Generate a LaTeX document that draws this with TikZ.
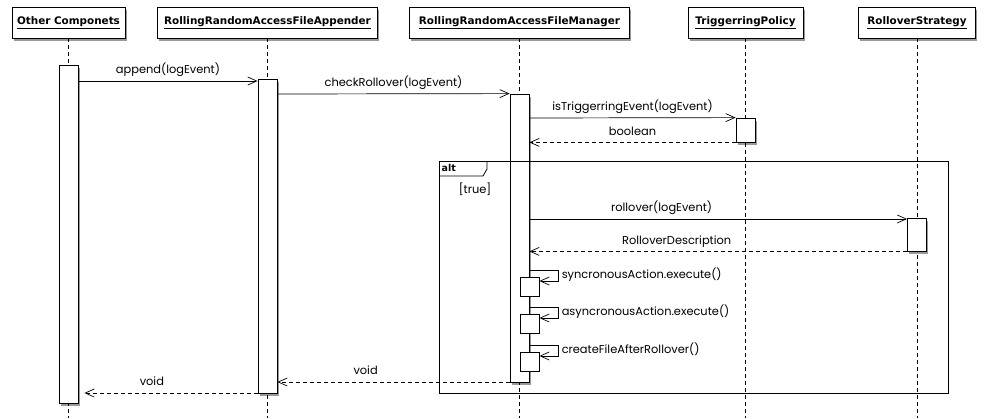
\documentclass[tikz,border=0pt]{standalone}
\usepackage{fontspec}
\setmainfont{Poppins}
\newfontfamily\hdfont{DejaVu Sans}
\usetikzlibrary{arrows.meta,shadows}

\begin{document}
\begin{tikzpicture}[x=1pt,y=-1pt,
    shade/.style={drop shadow={shadow xshift=1.5pt,shadow yshift=-2.5pt,fill=black,opacity=0.4}},
    head/.style={draw, fill=white, line width=0.8pt, minimum height=31pt, inner sep=0pt,
                 font=\hdfont\bfseries\fontsize{10.4}{12}\selectfont, shade},
    act/.style={draw, fill=white, line width=0.8pt, minimum width=19pt, inner sep=0pt, shade},
    selfbox/.style={draw, fill=white, line width=0.8pt, minimum width=19pt, minimum height=19pt, inner sep=0pt},
    life/.style={line width=0.7pt, dash pattern=on 4pt off 3pt},
    msg/.style={-{Straight Barb[length=9pt,width=8pt]}, line width=0.7pt},
    ret/.style={msg, dash pattern=on 4pt off 3pt},
    lbl/.style={font=\fontsize{11.4}{13}\selectfont, inner sep=1pt, text height=8.5pt, text depth=2.5pt}]
    \useasboundingbox (0,0) rectangle (985,418);

    % participants
    \node[head, minimum width=113pt] (hO) at (68.5,22.5) {\underline{Other Componets}};
    \node[head, minimum width=220pt] (hA) at (267.5,22.5) {\underline{RollingRandomAccessFileAppender}};
    \node[head, minimum width=220pt] (hM) at (519.5,22.5) {\underline{RollingRandomAccessFileManager}};
    \node[head, minimum width=115pt] (hT) at (745.5,22.5) {\underline{TriggerringPolicy}};
    \node[head, minimum width=117pt] (hR) at (917,22.5) {\underline{RolloverStrategy}};
    \foreach \n in {hO,hA,hM,hT,hR}
        \draw[life] (\n.south) -- (\n.south |- 0,418);

    % activations
    \node[act, minimum height=338pt] (aO) at (68.5,234) {};
    \node[act, minimum height=314pt] (aA) at (267.5,236) {};
    \node[act, minimum height=288pt] (aM) at (519.5,238) {};
    \node[act, minimum height=24pt] (aT) at (745.5,130) {};
    \node[act, minimum height=33pt] (aR) at (917,234.5) {};
    \node[selfbox] (s1) at (529.5,286.5) {};
    \node[selfbox] (s2) at (529.5,323.5) {};
    \node[selfbox] (s3) at (529.5,361.5) {};

    % alt fragment
    \draw[line width=0.8pt] (439,161) rectangle (948,393);
    \draw[line width=0.8pt] (439,176) -- (483,176) -- (487,169) -- (487,161);
    \node[anchor=west, inner sep=0pt, font=\hdfont\bfseries\fontsize{9.5}{10}\selectfont] (alt) at (441.5,168) {alt};
    \node[lbl] (cond) at (475,190) {[true]};

    % messages
    \draw[msg] (aO.east |- 0,81) -- node[lbl, above=3.5pt] {append(logEvent)} (aA.west |- 0,81);
    \draw[msg] (aA.east |- 0,94) -- node[lbl, above=3.5pt] {checkRollover(logEvent)} (aM.north west);
    \draw[msg] (aM.east |- 0,118) -- node[lbl, above=3.5pt] {isTriggerringEvent(logEvent)} (aT.north west);
    \draw[ret] (aT.south west) -- node[lbl, above=3.5pt] {boolean} (aM.east |- aT.south);
    \draw[msg] (aM.east |- 0,219) -- node[lbl, above=3.5pt, pos=0.35] {rollover(logEvent)} (aR.west |- 0,219);
    \draw[ret] (aR.south west) -- node[lbl, above=3.5pt, pos=0.61] {RolloverDescription} (aM.east |- aR.south);
    \draw[msg] (aM.east |- 0,270) -| node[lbl, right, xshift=2pt, pos=0.75] {syncronousAction.execute()} ++(29,11) -- (s1.east |- 0,281);
    \draw[msg] (aM.east |- 0,307) -| node[lbl, right, xshift=2pt, pos=0.75] {asyncronousAction.execute()} ++(29,11) -- (s2.east |- 0,318);
    \draw[msg] (aM.east |- 0,345) -| node[lbl, right, xshift=2pt, pos=0.75] {createFileAfterRollover()} ++(29,11) -- (s3.east |- 0,356);
    \draw[ret] (aM.west |- 0,382) -- node[lbl, above=3.5pt, pos=0.62] {void} (aA.east |- 0,382);
    \draw[ret, shorten >=6pt] (aA.west |- 0,393) -- node[lbl, above=3.5pt, pos=0.59] {void} (aO.east |- 0,393);
\end{tikzpicture}
\end{document}
